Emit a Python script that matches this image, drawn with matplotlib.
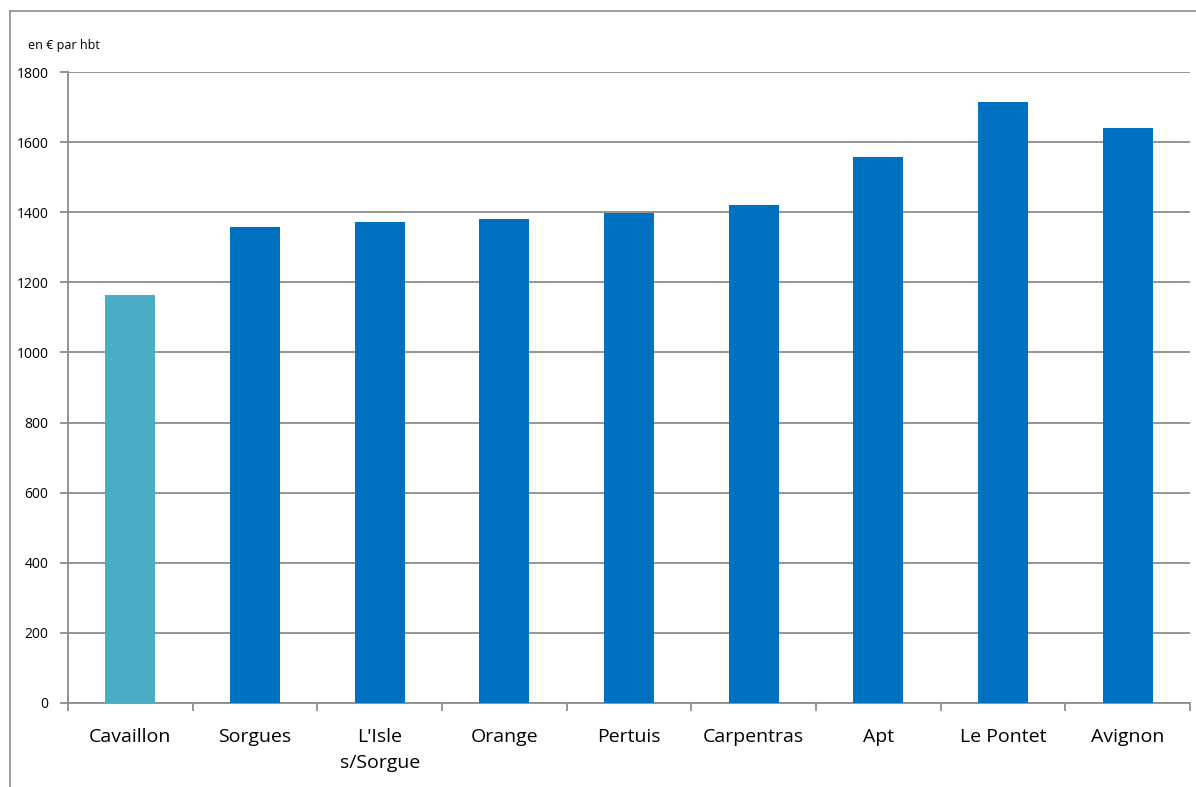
import matplotlib.pyplot as plt
from matplotlib.lines import Line2D

villes = ["Cavaillon", "Sorgues", "L'Isle\ns/Sorgue", "Orange", "Pertuis",
          "Carpentras", "Apt", "Le Pontet", "Avignon"]
valeurs = [1164, 1358, 1372, 1381, 1398, 1421, 1558, 1715, 1640]
couleurs = ["#4BACC6"] + ["#0070C0"] * 8
yticks = list(range(0, 1801, 200))

plt.rcParams['font.family'] = ['Open Sans', 'DejaVu Sans']

W, H = 1196, 787
fig = plt.figure(figsize=(W / 100, H / 100), dpi=100)
ax = fig.add_axes([68 / W, 1 - 703 / H, (1190 - 68) / W, (703 - 72) / H])

x = list(range(len(villes)))
ax.bar(x, valeurs, width=0.4, color=couleurs, zorder=3)

ax.set_xlim(-0.5, len(villes) - 0.5)
ax.set_ylim(0, 1800)
ax.set_yticks(yticks)
ax.set_yticklabels([str(v) for v in yticks], fontsize=10)
ax.yaxis.grid(True, color="#8C8C8C", linewidth=1.3, zorder=0)

# tick marks between categories, labels centred under the bars
ax.set_xticks([i + 0.5 for i in range(-1, len(villes))])
ax.set_xticklabels([])
ax.set_xticks(x, minor=True)
ax.set_xticklabels(villes, minor=True, fontsize=14, linespacing=1.55)
ax.tick_params(axis="x", which="minor", length=0, pad=18)
ax.tick_params(axis="x", which="major", length=6, color="#8C8C8C", width=1.3)
ax.tick_params(axis="y", length=6, color="#8C8C8C", width=1.3, pad=8)

for s in ["top", "right"]:
    ax.spines[s].set_visible(False)
for s in ["left", "bottom"]:
    ax.spines[s].set_color("#8C8C8C")
    ax.spines[s].set_linewidth(1.3)

fig.text(28 / W, 1 - 46 / H, "en € par hbt", fontsize=9, va="center", ha="left")

# chart frame
fig.add_artist(Line2D([10 / W, 10 / W], [0, 1 - 11 / H], color="#8C8C8C", lw=1.2))
fig.add_artist(Line2D([10 / W, 1], [1 - 11 / H, 1 - 11 / H], color="#8C8C8C", lw=1.2))

fig.savefig("out.png", dpi=100)
